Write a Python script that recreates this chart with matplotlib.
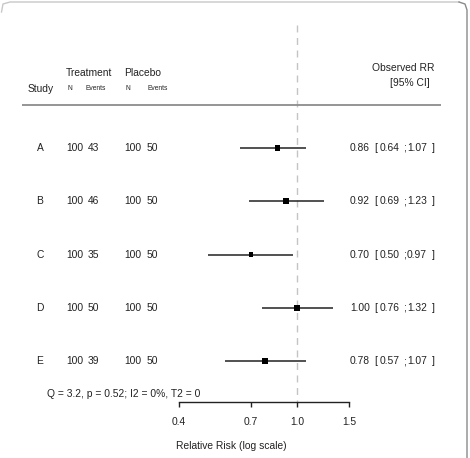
import matplotlib
matplotlib.use("Agg")
import matplotlib.pyplot as plt
import matplotlib.transforms as mtransforms
import numpy as np

studies = ["A", "B", "C", "D", "E"]
treat_n = [100, 100, 100, 100, 100]
treat_ev = [43, 46, 35, 50, 39]
plac_n = [100, 100, 100, 100, 100]
plac_ev = [50, 50, 50, 50, 50]
rr = [0.86, 0.92, 0.70, 1.00, 0.78]
ci_lo = [0.64, 0.69, 0.50, 0.76, 0.57]
ci_hi = [1.07, 1.23, 0.97, 1.32, 1.07]
xticks = [0.4, 0.7, 1.0, 1.5]
het_text = "Q = 3.2, p = 0.52; I2 = 0%, T2 = 0"

W, H = 470, 458
plt.rcParams["font.family"] = ["Liberation Sans", "DejaVu Sans"]
txt = "#222222"
fs = 7.4

fig = plt.figure(figsize=(W / 100, H / 100), dpi=100)
ax = fig.add_axes([0, 0, 1, 1])
ax.patch.set_alpha(0)

# scale: 128.8 px per log unit, RR=1 at x=297 px; rows 53.25 px apart from y=148
k = 128.8
ax.set_xscale("log")
ax.set_xlim(np.exp(-297 / k), np.exp((W - 297) / k))
row_h = 53.25
def row_y(py):
    return (py - 148) / row_h
ax.set_ylim(row_y(H), row_y(0))

def fx(px):
    return px / W

def fy(py):
    return 1 - py / H

# inverse variance weights -> square size
w = [1 / (1 / a - 1 / n1 + 1 / c - 1 / n2) for a, n1, c, n2 in zip(treat_ev, treat_n, plac_ev, plac_n)]
sizes = [6.5 * 0.72 * wi / max(w) for wi in w]

ypos = np.arange(len(studies))
ax.vlines(1.0, row_y(25), row_y(402), color="#c4c4c4", lw=1.0, linestyles=(0, (5, 4)), zorder=1)
ax.hlines(ypos, ci_lo, ci_hi, color="#222222", lw=1.1, zorder=2)
ax.scatter(rr, ypos, marker="s", s=[s ** 2 for s in sizes], color="black", zorder=3, linewidths=0)

# header line
ax.hlines(row_y(104.5), np.exp((22 - 297) / k), np.exp((441 - 297) / k), color="#8c8c8c", lw=1.3)

# x axis
for s in ["top", "left", "right"]:
    ax.spines[s].set_visible(False)
ax.spines["bottom"].set_position(("data", row_y(402)))
ax.spines["bottom"].set_bounds(xticks[0], xticks[-1])
ax.spines["bottom"].set_linewidth(1.0)
ax.spines["bottom"].set_color("#222222")
ax.set_xticks(xticks)
ax.set_xticklabels([f"{t:.1f}" for t in xticks])
ax.xaxis.set_minor_locator(matplotlib.ticker.NullLocator())
ax.tick_params(axis="x", direction="out", length=3.6, width=1.0, color="#222222",
               labelsize=fs, labelcolor=txt, pad=7)
ax.set_yticks([])

# row texts
tr = mtransforms.blended_transform_factory(fig.transFigure, ax.transData)
def rtext(px, i, s, ha="left"):
    ax.text(fx(px), i, s, transform=tr, ha=ha, va="center", fontsize=fs, color=txt)

for i, s in enumerate(studies):
    rtext(40, i, s, ha="center")
    rtext(66, i, str(treat_n[i]))
    rtext(88, i, str(treat_ev[i]))
    rtext(124, i, str(plac_n[i]))
    rtext(147, i, str(plac_ev[i]))
    rtext(350, i, f"{rr[i]:.2f}")
    rtext(374, i, "[")
    rtext(380, i, f"{ci_lo[i]:.2f}")
    rtext(403, i, ";")
    rtext(407, i, f"{ci_hi[i]:.2f}")
    rtext(432, i, "]")

# headers
fig.text(fx(66), fy(73), "Treatment", ha="left", va="center", fontsize=fs, color=txt)
fig.text(fx(124), fy(73), "Placebo", ha="left", va="center", fontsize=fs, color=txt)
fig.text(fx(28), fy(89), "Study", ha="left", va="center", fontsize=fs, color=txt)
fig.text(fx(67), fy(89), "N", ha="left", va="center", fontsize=4.8, color=txt)
fig.text(fx(85), fy(89), "Events", ha="left", va="center", fontsize=4.8, color=txt)
fig.text(fx(125), fy(89), "N", ha="left", va="center", fontsize=4.8, color=txt)
fig.text(fx(148), fy(89), "Events", ha="left", va="center", fontsize=4.8, color=txt)
fig.text(fx(434), fy(68), "Observed RR", ha="right", va="center", fontsize=fs, color=txt)
fig.text(fx(430), fy(83), "[95% CI]", ha="right", va="center", fontsize=fs, color=txt)

fig.text(fx(47), fy(394), het_text, ha="left", va="center", fontsize=fs, color=txt)
fig.text(fx(231), fy(446), "Relative Risk (log scale)", ha="center", va="center", fontsize=fs, color=txt)

# rounded frame (top and right edges)
fig.add_artist(plt.Line2D([fx(1.5), fx(3), fx(10), fx(459)], [fy(12), fy(4), fy(2), fy(2)],
                          transform=fig.transFigure, color="#c8c8c8", lw=1.0))
fig.add_artist(plt.Line2D([fx(459), fx(465), fx(467), fx(467)], [fy(2), fy(4), fy(10), fy(H)],
                          transform=fig.transFigure, color="#8a8a8a", lw=1.0))

fig.savefig("out.png", dpi=100)
